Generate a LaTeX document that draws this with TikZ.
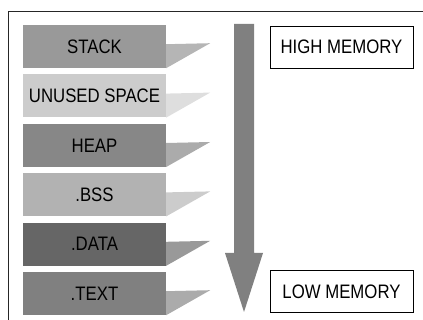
\documentclass[tikz,border=0pt]{standalone}
\usepackage{fontspec}
\setmainfont{Liberation Sans}[FakeStretch=0.86]
\usepackage{tikz}
\usetikzlibrary{positioning}

\tikzset{
  segment/.style={minimum width=143pt, minimum height=43pt, inner sep=0pt,
    font=\fontsize{19.5}{21}\selectfont},
  marker/.style={draw=black, line width=0.8pt, minimum width=143pt,
    minimum height=42pt, inner sep=0pt, font=\fontsize{19.5}{21}\selectfont},
}

\begin{document}
\begin{tikzpicture}[x=1pt,y=-1pt]

  \useasboundingbox (0,0) rectangle (423,320);

  % The outer frame (its right and bottom edges lie off the page)
  \draw[line width=1pt, black!85] (8.5,330) -- (8.5,11.5) -- (440,11.5);

  % The memory segments, from the top down
  \node[segment, fill=black!40] (stack) at (94.5,46.5) {STACK};
  \node[segment, fill=black!20, below=6pt of stack] (unused) {UNUSED SPACE};
  \node[segment, fill=black!47, below=6pt of unused] (heap) {HEAP};
  \node[segment, fill=black!30, below=6pt of heap] (bss) {.BSS};
  \node[segment, fill=black!60, below=6pt of bss] (data) {.DATA};
  \node[segment, fill=black!50, below=6pt of data] (text) {.TEXT};

  % The flaps at the right of each segment
  \fill[black!29] (stack.south east) -- ++(0,-24) -- ++(44,-1) -- cycle;
  \fill[black!13] (unused.south east) -- ++(0,-24) -- ++(44,-1) -- cycle;
  \fill[black!33] (heap.south east) -- ++(0,-24) -- ++(44,-1) -- cycle;
  \fill[black!20] (bss.south east) -- ++(0,-24) -- ++(44,-1) -- cycle;
  \fill[black!40] (data.south east) -- ++(0,-24) -- ++(44,-1) -- cycle;
  \fill[black!33] (text.south east) -- ++(0,-24) -- ++(44,-1) -- cycle;

  % The big arrow pointing down
  \fill[black!50] (234,24) -- (254,24) -- (254,253) -- (263,253)
    -- (244,312) -- (225,253) -- (234,253) -- cycle;

  % The two labels
  \node[marker] (high) at (341.5,47) {HIGH MEMORY};
  \node[marker] (low) at (341.5,291.5) {LOW MEMORY};

\end{tikzpicture}
\end{document}
